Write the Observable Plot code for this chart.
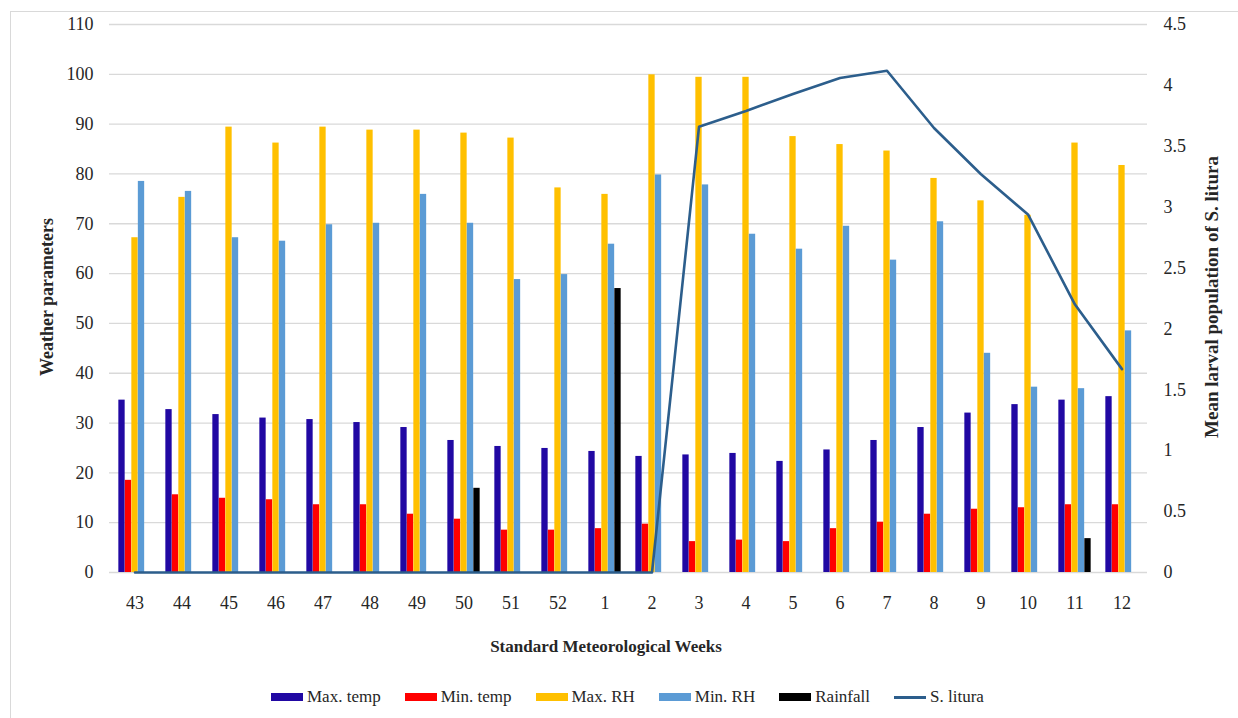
<!DOCTYPE html>
<html>
<head>
<meta charset="utf-8">
<script src="https://cdn.jsdelivr.net/npm/d3@7"></script>
<script src="https://cdn.jsdelivr.net/npm/@observablehq/plot@0.6"></script>
<style>
  html, body { margin: 0; padding: 0; background: #fff; }
  #wrap { position: relative; width: 1238px; height: 718px; overflow: hidden; font-family: "Liberation Serif", Tinos, "DejaVu Serif", serif; color: #262626; }
  #frame { position: absolute; left: 10px; top: 11px; width: 1240px; height: 720px; border: 1px solid #d9d9d9; box-sizing: border-box; }
  #chart { position: absolute; left: 0; top: 0; }
  #chart svg text { font-family: "Liberation Serif", Tinos, "DejaVu Serif", serif; }
  .ytitle { position: absolute; font-weight: bold; white-space: nowrap; transform: translate(-50%, -50%) rotate(-90deg); }
  #xtitle { position: absolute; font-weight: bold; font-size: 17px; white-space: nowrap; transform: translate(-50%, -50%); left: 606px; top: 647px; }
  #legend { position: absolute; left: 271px; top: 697px; transform: translateY(-50%); display: flex; align-items: center; font-size: 17px; }
  .item { display: flex; align-items: center; margin-right: 24px; }
  .item:last-child { margin-right: 0; }
  .sw { width: 32px; height: 8px; margin-right: 4px; }
  .ln { width: 32px; height: 3px; margin-right: 4px; }
</style>
</head>
<body>
<div id="wrap">
  <div id="frame"></div>
  <div id="chart"></div>
  <div class="ytitle" style="left:47px; top:297px; font-size:18px;">Weather parameters</div>
  <div class="ytitle" style="left:1212px; top:297px; font-size:19px;">Mean larval population of S. litura</div>
  <div id="xtitle">Standard Meteorological Weeks</div>
  <div id="legend"></div>
</div>
<script>
// ---- data ----
const weeks = ["43","44","45","46","47","48","49","50","51","52","1","2","3","4","5","6","7","8","9","10","11","12"];
const maxTemp = [34.6,32.7,31.7,31.0,30.7,30.1,29.1,26.5,25.3,24.9,24.3,23.3,23.6,23.9,22.3,24.6,26.5,29.1,32.0,33.7,34.6,35.3];
const minTemp = [18.5,15.6,14.9,14.6,13.6,13.6,11.7,10.7,8.5,8.5,8.8,9.7,6.2,6.5,6.2,8.8,10.1,11.7,12.7,13.0,13.6,13.6];
const maxRH   = [67.2,75.3,89.4,86.2,89.4,88.8,88.8,88.2,87.2,77.2,75.9,99.9,99.4,99.4,87.5,85.9,84.6,79.1,74.6,71.7,86.2,81.7];
const minRH   = [78.5,76.5,67.2,66.5,69.8,70.1,75.9,70.1,58.8,59.8,65.9,79.8,77.8,67.9,64.9,69.5,62.7,70.4,44.0,37.2,36.9,48.5];
const rainfall= [0,0,0,0,0,0,0,16.9,0,0,57.0,0,0,0,0,0,0,0,0,0,6.8,0];
const litura  = [0,0,0,0,0,0,0,0,0,0,0,0,3.66,3.79,3.93,4.06,4.12,3.65,3.27,2.94,2.20,1.67];

const seriesNames = ["Max. temp","Min. temp","Max. RH","Min. RH","Rainfall"];
const seriesValues = [maxTemp, minTemp, maxRH, minRH, rainfall];
const seriesColors = ["#2108a3","#ff0000","#ffc000","#5b9bd5","#000000"];
const lineName = "S. litura";
const lineColor = "#2c5e8c";

const leftTicks = d3.range(0, 111, 10);
const rightTicks = [0,0.5,1,1.5,2,2.5,3,3.5,4,4.5];
const leftMax = 110, rightMax = 4.5;

// ---- layout ----
const W = 1238, H = 640, ML = 109, MR = 91, MT = 24, MB = 68;
const band = (W - ML - MR) / weeks.length;
const barW = 6.5;
const inset = (band - barW) / 2;
const toLeft = v => v * leftMax / rightMax;
const FONT = "'Liberation Serif', Tinos, 'DejaVu Serif', serif";

const marks = [
  Plot.ruleY(leftTicks, {stroke: "#d9d9d9", strokeWidth: 1.3}),
  Plot.axisY(leftTicks, {anchor: "left", tickSize: 0, tickPadding: 16, fontSize: 18, label: null}),
  Plot.axisY(rightTicks.map(toLeft), {anchor: "right", tickSize: 0, tickPadding: 16, fontSize: 18, label: null, textAnchor: "start",
    tickFormat: (d) => String(+(d * rightMax / leftMax).toFixed(1))}),
  Plot.axisX({tickSize: 0, tickPadding: 24, fontSize: 18, label: null})
];
seriesValues.forEach((vals, i) => {
  const data = weeks.map((w, j) => ({week: w, value: vals[j]})).filter(d => d.value > 0);
  marks.push(Plot.barY(data, {
    x: "week", y: "value", fill: seriesColors[i],
    insetLeft: inset, insetRight: inset, dx: (i - 2) * barW
  }));
});
marks.push(Plot.line(weeks.map((w, j) => ({week: w, v: toLeft(litura[j])})), {
  x: "week", y: "v", stroke: lineColor, strokeWidth: 2.6, curve: "linear"
}));

const chart = Plot.plot({
  width: W, height: H,
  marginLeft: ML, marginRight: MR, marginTop: MT, marginBottom: MB,
  style: {fontFamily: FONT, color: "#262626", background: "transparent"},
  x: {type: "band", domain: weeks, padding: 0, axis: null},
  y: {domain: [0, leftMax], axis: null},
  marks
});
document.getElementById("chart").appendChild(chart);

// ---- legend ----
const legend = document.getElementById("legend");
seriesNames.forEach((n, i) => {
  const it = document.createElement("div"); it.className = "item";
  const sw = document.createElement("div"); sw.className = "sw"; sw.style.background = seriesColors[i];
  const tx = document.createElement("span"); tx.textContent = n;
  it.appendChild(sw); it.appendChild(tx); legend.appendChild(it);
});
{
  const it = document.createElement("div"); it.className = "item";
  const sw = document.createElement("div"); sw.className = "ln"; sw.style.background = lineColor;
  const tx = document.createElement("span"); tx.textContent = lineName;
  it.appendChild(sw); it.appendChild(tx); legend.appendChild(it);
}
</script>
</body>
</html>
